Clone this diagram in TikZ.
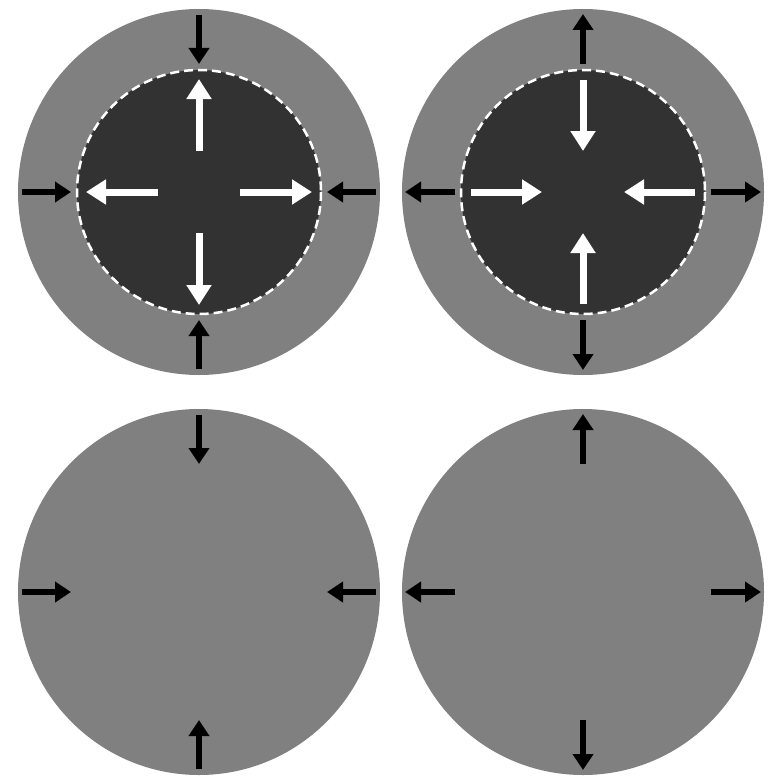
\documentclass[tikz,border=0pt]{standalone}
\usetikzlibrary{arrows.meta}
\definecolor{outergray}{RGB}{128,128,128}
\definecolor{innerdark}{RGB}{50,50,50}
\tikzset{
  outerdisk/.style={fill=outergray, draw=none},
  innerdisk/.style={fill=innerdark, draw=white, line width=2.5pt, dash pattern=on 9pt off 5pt},
  blackarrow/.style={draw=black, line width=5.5pt, -{Triangle[length=16pt,width=20pt]}},
  whitearrow/.style={draw=white, line width=7pt, -{Triangle[length=20pt,width=24pt]}},
}
\begin{document}
\begin{tikzpicture}[x=1pt,y=-1pt]
\useasboundingbox (0,0) rectangle (773,784);
\coordinate (tl) at (199,192);
\coordinate (tr) at (583,192);
\coordinate (bl) at (199,592);
\coordinate (br) at (583,592);
% discs
\foreach \c in {tl,tr,bl,br} {\fill[outerdisk] (\c) ellipse[x radius=181, y radius=183];}
\foreach \c in {tl,tr} {\draw[innerdisk] (\c) circle[radius=122];}
% black arrows: inward (left column), outward (right column)
\foreach \c in {tl,bl} {
  \foreach \a in {0,90,180,270} {
    \draw[blackarrow] ([shift={(\a:177)}]\c) -- ([shift={(\a:128)}]\c);
  }
}
\foreach \c in {tr,br} {
  \foreach \a in {0,90,180,270} {
    \draw[blackarrow] ([shift={(\a:128)}]\c) -- ([shift={(\a:178)}]\c);
  }
}
% white arrows
\foreach \a in {0,90,180,270} {
  \draw[whitearrow] ([shift={(\a:41)}]tl) -- ([shift={(\a:113)}]tl);
  \draw[whitearrow] ([shift={(\a:112)}]tr) -- ([shift={(\a:41)}]tr);
}
\end{tikzpicture}
\end{document}
